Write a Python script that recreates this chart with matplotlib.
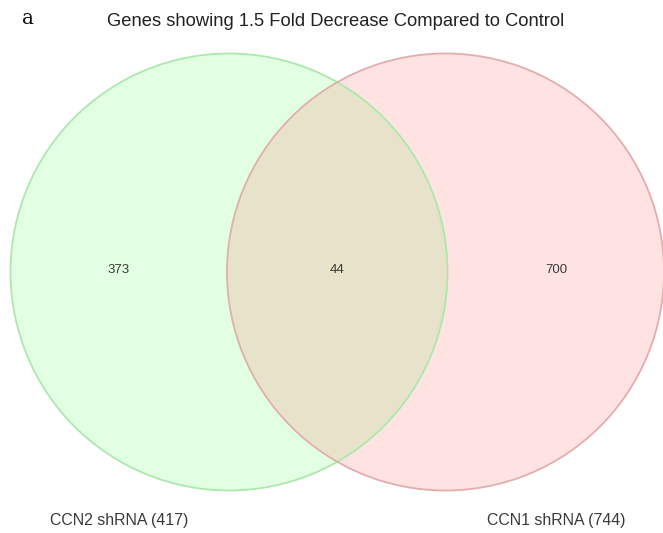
import matplotlib
matplotlib.use("Agg")
import matplotlib.pyplot as plt
from matplotlib.patches import Circle

# Data
set_names = ["CCN2 shRNA", "CCN1 shRNA"]
set_totals = [417, 744]
only_counts = [373, 700]
overlap_count = 44
title = "Genes showing 1.5 Fold Decrease Compared to Control"
panel_label = "a"

fill_colors = ["#00ff00", "#ff0000"]
edge_colors = ["#ace8ac", "#e3adad"]

W, H = 663, 533
fig = plt.figure(figsize=(W / 100, H / 100), dpi=100)
ax = fig.add_axes([0, 0, 1, 1])
ax.set_xlim(0, W)
ax.set_ylim(H, 0)
ax.axis("off")

# layout
cy = 272
r = 218.5
centers = [229, 445.5]

for cx, fc in zip(centers, fill_colors):
    ax.add_patch(Circle((cx, cy), r, facecolor=fc, alpha=0.11, edgecolor="none"))
for cx, ec in zip(centers, edge_colors):
    ax.add_patch(Circle((cx, cy), r, facecolor="none", edgecolor=ec, lw=1.3))

font = "Liberation Sans"
tc = "#3a3a3a"
ax.text(119, 270, str(only_counts[0]), ha="center", va="center", fontsize=9.5, color=tc, family=font)
ax.text((centers[0] + r + centers[1] - r) / 2, 270, str(overlap_count), ha="center", va="center",
        fontsize=9.5, color=tc, family=font)
ax.text(556, 270, str(only_counts[1]), ha="center", va="center", fontsize=9.5, color=tc, family=font)

ax.text(119, 520, f"{set_names[0]} ({set_totals[0]})", ha="center", va="center",
        fontsize=11.4, color=tc, family=font)
ax.text(556, 520, f"{set_names[1]} ({set_totals[1]})", ha="center", va="center",
        fontsize=11.4, color=tc, family=font)

ax.text(336, 22, title, ha="center", va="center", fontsize=13.2, color="#222222", family=font)
ax.text(28, 18, panel_label, ha="center", va="center", fontsize=14.5, color="#111111", family="DejaVu Serif")

fig.savefig("out.png", dpi=100, facecolor="white")
